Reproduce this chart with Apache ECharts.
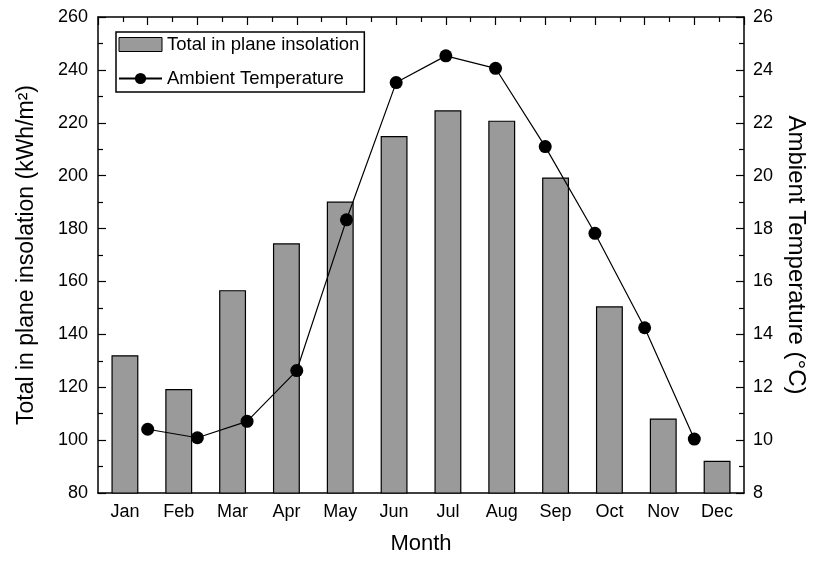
<!DOCTYPE html>
<html>
<head>
<meta charset="utf-8">
<script src="https://cdn.jsdelivr.net/npm/echarts@6/dist/echarts.min.js"></script>
<style>
  html, body { margin: 0; padding: 0; background: #fff; }
  #chart { width: 816px; height: 567px; }
</style>
</head>
<body>
<div id="chart"></div>
<script>
const months = ['Jan','Feb','Mar','Apr','May','Jun','Jul','Aug','Sep','Oct','Nov','Dec'];
const insolation = [132.1, 119.3, 156.7, 174.4, 190.2, 215.0, 224.7, 220.8, 199.3, 150.6, 108.2, 92.2];
const tempPos = [1, 2, 3, 4, 5, 6, 7, 8, 9, 10, 11, 12];
const temperature = [10.41, 10.09, 10.71, 12.63, 18.33, 23.52, 24.53, 24.06, 21.10, 17.82, 14.25, 10.04];

const FONT = "'Liberation Sans', Arial, Helvetica, sans-serif";
const chart = echarts.init(document.getElementById('chart'));

const axisLine = { show: true, lineStyle: { color: '#000', width: 1.5 } };

chart.setOption({
  animation: false,
  textStyle: { fontFamily: FONT, color: '#000' },
  grid: { left: 98, right: 67, top: 17, bottom: 74 },
  legend: {
    orient: 'vertical',
    left: 116,
    top: 32,
    padding: [3, 5, 4, 2],
    itemGap: 15,
    itemWidth: 43,
    itemHeight: 14,
    borderColor: '#000',
    borderWidth: 1.5,
    textStyle: { fontFamily: FONT, fontSize: 18.5, color: '#000' },
    data: [
      { name: 'Total in plane insolation', icon: 'rect', itemStyle: { borderWidth: 1 } },
      { name: 'Ambient Temperature' }
    ]
  },
  xAxis: [
    {
      type: 'category',
      data: months,
      position: 'bottom',
      name: 'Month',
      nameLocation: 'middle',
      nameGap: 40,
      nameTextStyle: { fontFamily: FONT, fontSize: 22, color: '#000' },
      axisLine: axisLine,
      axisTick: { show: false },
      axisLabel: { fontFamily: FONT, fontSize: 18, color: '#000', margin: 10 },
      splitLine: { show: false }
    },
    {
      type: 'value',
      position: 'top',
      min: 0,
      max: 13,
      interval: 1,
      axisLine: axisLine,
      axisTick: { show: true, inside: true, length: 8, lineStyle: { color: '#000', width: 1.2 } },
      minorTick: { show: true, splitNumber: 2, length: 5, lineStyle: { color: '#000', width: 1.2 } },
      axisLabel: { show: false },
      splitLine: { show: false }
    }
  ],
  yAxis: [
    {
      type: 'value',
      position: 'left',
      min: 80,
      max: 260,
      interval: 20,
      name: 'Total in plane insolation (kWh/m²)',
      nameLocation: 'middle',
      nameGap: 60,
      nameTextStyle: { fontFamily: FONT, fontSize: 23, color: '#000' },
      axisLine: axisLine,
      axisTick: { show: true, inside: true, length: 8, lineStyle: { color: '#000', width: 1.2 } },
      minorTick: { show: true, splitNumber: 2, length: 5, lineStyle: { color: '#000', width: 1.2 } },
      axisLabel: { fontFamily: FONT, fontSize: 18, color: '#000', margin: 10 },
      splitLine: { show: false }
    },
    {
      type: 'value',
      position: 'right',
      min: 8,
      max: 26,
      interval: 2,
      name: 'Ambient Temperature (°C)',
      nameLocation: 'middle',
      nameRotate: -90,
      nameGap: 40,
      nameTextStyle: { fontFamily: FONT, fontSize: 24, color: '#000' },
      axisLine: axisLine,
      axisTick: { show: true, inside: true, length: 8, lineStyle: { color: '#000', width: 1.2 } },
      minorTick: { show: true, splitNumber: 2, length: 5, lineStyle: { color: '#000', width: 1.2 } },
      axisLabel: { fontFamily: FONT, fontSize: 18, color: '#000', margin: 9 },
      splitLine: { show: false }
    }
  ],
  series: [
    {
      name: 'Total in plane insolation',
      type: 'bar',
      xAxisIndex: 0,
      yAxisIndex: 0,
      data: insolation,
      barWidth: '50%',
      itemStyle: { color: '#999a99', borderColor: '#000', borderWidth: 1.2 },
      z: 2
    },
    {
      name: 'Ambient Temperature',
      type: 'line',
      xAxisIndex: 1,
      yAxisIndex: 1,
      data: tempPos.map((x, i) => [x, temperature[i]]),
      symbol: 'circle',
      symbolSize: 13,
      lineStyle: { color: '#000', width: 1.2 },
      itemStyle: { color: '#000' },
      z: 3
    }
  ]
});
</script>
</body>
</html>
